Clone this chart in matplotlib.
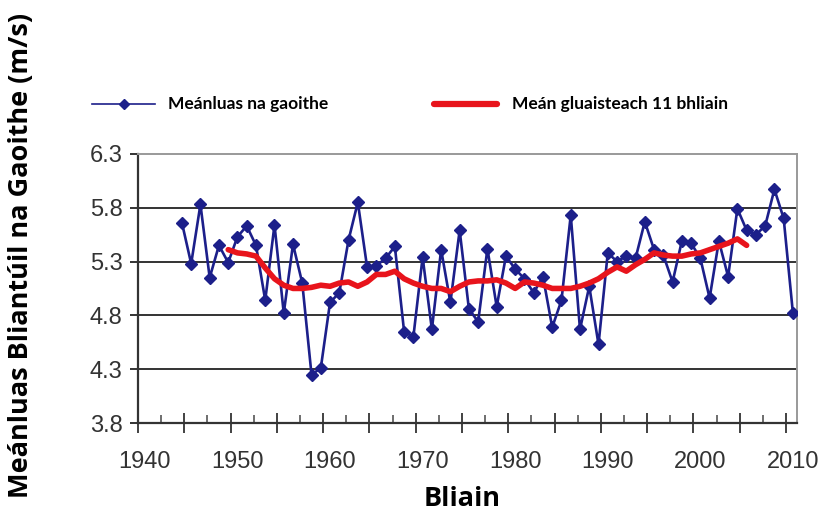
import numpy as np
import matplotlib
matplotlib.use("Agg")
import matplotlib.pyplot as plt
from matplotlib.lines import Line2D

# Annual mean wind speed, 1944-2010
years = list(range(1944, 2011))
wind = [5.66, 5.28, 5.83, 5.15, 5.45, 5.29, 5.53, 5.63, 5.45, 4.94,
        5.64, 4.82, 5.46, 5.10, 4.25, 4.31, 4.92, 5.01, 5.50, 5.85,
        5.25, 5.26, 5.33, 5.44, 4.65, 4.60, 5.34, 4.67, 5.41, 4.92,
        5.59, 4.86, 4.74, 5.42, 4.88, 5.35, 5.23, 5.14, 5.01, 5.16,
        4.69, 4.94, 5.73, 4.67, 5.07, 4.53, 5.38, 5.30, 5.35, 5.33,
        5.67, 5.41, 5.36, 5.11, 5.49, 5.47, 5.33, 4.96, 5.49, 5.16,
        5.79, 5.59, 5.55, 5.63, 5.97, 5.70, 4.82]

# 11-year moving mean as drawn (1949-2005)
ma_years = list(range(1949, 2006))
ma = [5.41, 5.38, 5.37, 5.35, 5.24, 5.14, 5.08, 5.05, 5.05, 5.06,
      5.08, 5.07, 5.10, 5.11, 5.07, 5.11, 5.18, 5.18, 5.21, 5.14,
      5.10, 5.07, 5.05, 5.05, 5.02, 5.07, 5.11, 5.12, 5.12, 5.13,
      5.10, 5.05, 5.11, 5.10, 5.08, 5.05, 5.05, 5.05, 5.07, 5.10,
      5.14, 5.20, 5.25, 5.21, 5.27, 5.32, 5.38, 5.36, 5.35, 5.35,
      5.37, 5.38, 5.41, 5.44, 5.47, 5.51, 5.45]

yticks = [3.8, 4.3, 4.8, 5.3, 5.8, 6.3]
xlabels = [1940, 1950, 1960, 1970, 1980, 1990, 2000, 2010]

blue = "#1c1f8a"
red = "#e8141c"

fig = plt.figure(figsize=(8.26, 5.16), dpi=100)
ax = fig.add_axes([0.167, 0.180, 0.798, 0.522])

ax.set_xlim(1939.25, 2010.45)
ax.set_ylim(3.8, 6.3)

# grid lines
for v in yticks[1:-1]:
    ax.axhline(v, color="#333333", lw=1.4, zorder=1)

ax.plot(years, wind, color=blue, lw=1.9, marker="D", ms=6, zorder=3)
ax.plot(ma_years, ma, color=red, lw=4, solid_capstyle="round", zorder=4)

ax.spines["top"].set_color("#999999")
ax.spines["right"].set_color("#999999")
ax.spines["top"].set_linewidth(1.4)
ax.spines["right"].set_linewidth(1.4)
ax.spines["left"].set_color("#333333")
ax.spines["bottom"].set_color("#333333")
ax.spines["left"].set_linewidth(1.6)
ax.spines["bottom"].set_linewidth(1.6)

ax.set_yticks(yticks)
ax.set_yticklabels([f"{v:.1f}" for v in yticks])
ax.tick_params(axis="y", direction="out", length=6, width=1.4,
               color="#333333", labelsize=17, labelcolor="#333333", pad=5)
for lab in ax.get_yticklabels():
    lab.set_family("Liberation Sans")

# category style ticks
major = np.arange(1939.25, 2011, 5.0)
minor = major[:-1] + 2.5
ax.set_xticks(major)
ax.set_xticks(minor, minor=True)
ax.set_xticklabels([])
ax.tick_params(axis="x", which="major", direction="inout", length=14,
               width=1.3, color="#333333")
ax.tick_params(axis="x", which="minor", direction="in", length=6,
               width=1.2, color="#555555")
for x in xlabels:
    ax.text(x, -0.105, str(x), transform=ax.get_xaxis_transform(),
            ha="center", va="top", fontsize=17, color="#333333",
            family="Liberation Sans")

fig.text(0.559, 0.008, "Bliain", ha="center", va="bottom",
         fontsize=19.5, fontweight="bold", family="Open Sans")
fig.text(0.010, 0.505, "Meánluas Bliantúil na Gaoithe (m/s)", rotation=90,
         ha="left", va="center", fontsize=19.5, fontweight="bold",
         family="Open Sans")

# legend
leg_y = 1 - 104 / 516
fig.add_artist(Line2D([92 / 826, 155 / 826], [leg_y, leg_y], color=blue,
                      lw=1.2))
fig.add_artist(Line2D([124 / 826], [leg_y], color=blue, marker="D", ms=5))
fig.text(168 / 826, leg_y, "Meánluas na gaoithe", ha="left", va="center",
         fontsize=12.5, fontweight="bold", family="Lato")
fig.add_artist(Line2D([434 / 826, 497 / 826], [leg_y, leg_y], color=red,
                      lw=4.5, solid_capstyle="round"))
fig.text(512 / 826, leg_y, "Meán gluaisteach 11 bhliain", ha="left",
         va="center", fontsize=12.5, fontweight="bold", family="Lato")

fig.savefig("out.png", dpi=100)
